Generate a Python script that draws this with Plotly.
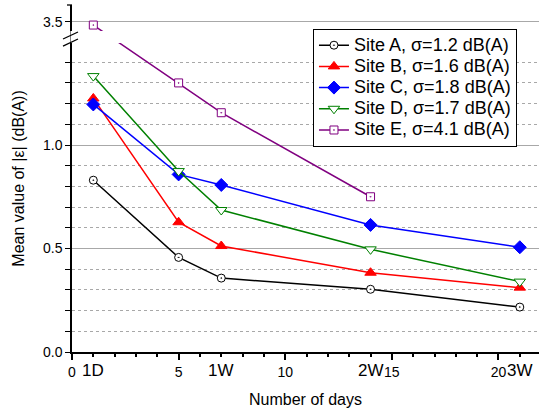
import plotly.graph_objects as go

# ---------------- data ----------------
days = [1, 5, 7, 14, 21]
site_a = [0.830, 0.457, 0.357, 0.303, 0.217]
site_b = [1.225, 0.627, 0.512, 0.383, 0.311]
site_c = [1.196, 0.858, 0.807, 0.614, 0.506]
site_d = [1.333, 0.874, 0.686, 0.496, 0.340]
site_e_days = [1, 5, 7, 14]
site_e = [3.48, 1.300, 1.156, 0.750]

names = [
    "Site A, σ=1.2 dB(A)",
    "Site B, σ=1.6 dB(A)",
    "Site C, σ=1.8 dB(A)",
    "Site D, σ=1.7 dB(A)",
    "Site E, σ=4.1 dB(A)",
]
x_tick_vals = [0, 5, 10, 15, 20]
x_period_vals = [1, 7, 14, 21]
x_period_text = ["1D", "1W", "2W", "3W"]
y_tick_vals = [0.0, 0.5, 1.0, 3.5]
y_tick_text = ["0.0", "0.5", "1.0", "3.5"]
y_minor_vals = [0.1, 0.2, 0.3, 0.4, 0.6, 0.7, 0.8, 0.9, 1.1, 1.2, 1.3, 1.4]

# ---------------- broken y scale ----------------
BREAK_LOW = 1.5      # top of lower segment
BREAK_HIGH = 3.4     # bottom of upper segment
UPPER_START = 1.515  # display position of BREAK_HIGH
UPPER_SCALE = 0.807  # compression of the upper segment
Y_TOP = 3.6


def disp(v):
    if v <= BREAK_LOW:
        return v
    return UPPER_START + (v - BREAK_HIGH) * UPPER_SCALE


YMAX = disp(Y_TOP)
FONT = "Liberation Sans, Arial, sans-serif"

fig = go.Figure()

styles = [
    dict(color="black", symbol="circle-dot", fill="white", size=8),
    dict(color="red", symbol="triangle-up", fill="red", size=10),
    dict(color="blue", symbol="diamond", fill="blue", size=10),
    dict(color="green", symbol="triangle-down", fill="white", size=10),
    dict(color="purple", symbol="square-dot", fill="white", size=8),
]
series = [(days, site_a), (days, site_b), (days, site_c), (days, site_d), (site_e_days, site_e)]

for (xs, ys), name, st in zip(series, names, styles):
    fig.add_trace(go.Scatter(
        x=xs, y=[disp(v) for v in ys],
        name='<span style="font-size:18px">' + name + '</span>',
        mode="lines+markers",
        line=dict(color=st["color"], width=1.5),
        marker=dict(symbol=st["symbol"], size=st["size"], color=st["fill"],
                    line=dict(color=st["color"], width=1)),
        customdata=ys, hovertemplate="%{x} days: %{customdata}<extra></extra>",
    ))

# period labels under the x axis
for xv, txt in zip(x_period_vals, x_period_text):
    fig.add_annotation(x=xv, y=0, xref="x", yref="paper", text=txt, showarrow=False,
                       yanchor="middle", yshift=-18, font=dict(size=17, color="black", family=FONT))

shapes = [
    # white band hiding the lines across the axis break
    dict(type="rect", xref="paper", xsizemode="pixel", xanchor=0, x0=-1.5, x1=480,
         yref="y", y0=1.493, y1=1.551,
         fillcolor="white", line=dict(width=0), layer="above"),
    # break slashes
    dict(type="line", xref="paper", xsizemode="pixel", xanchor=0, x0=-9, x1=6,
         yref="y", y0=1.512, y1=1.546, line=dict(color="black", width=1.3), layer="above"),
    dict(type="line", xref="paper", xsizemode="pixel", xanchor=0, x0=-9, x1=6,
         yref="y", y0=1.478, y1=1.512, line=dict(color="black", width=1.3), layer="above"),
    # top tick of the upper segment
    dict(type="line", xref="paper", xsizemode="pixel", xanchor=0, x0=-5, x1=0,
         yref="paper", y0=1, y1=1, line=dict(color="black", width=1.3), layer="above"),
]

fig.update_layout(
    width=539, height=408,
    margin=dict(l=72, r=0, t=5, b=56, autoexpand=False),
    paper_bgcolor="white", plot_bgcolor="white",
    font=dict(family=FONT, color="black"),
    showlegend=True,
    legend=dict(x=0.516, y=0.932, xanchor="left", yanchor="top",
                bgcolor="white", bordercolor="black", borderwidth=1,
                font=dict(size=14, family=FONT), tracegroupgap=0),
    shapes=shapes,
    xaxis=dict(
        range=[0, 21.9], showline=True, linecolor="black", linewidth=1.5,
        showgrid=False, zeroline=False, automargin=False,
        tickmode="array", tickvals=x_tick_vals, ticktext=[str(v) for v in x_tick_vals],
        ticks="outside", ticklen=6, tickwidth=1.5, tickcolor="black",
        tickfont=dict(size=14),
        minor=dict(tickmode="array", tickvals=[d for d in range(1, 22) if d % 5],
                   ticks="outside", ticklen=3, tickwidth=1.5, tickcolor="black", showgrid=False),
        title=dict(text="Number of days", font=dict(size=16), standoff=18),
    ),
    yaxis=dict(
        range=[0, YMAX], showline=True, linecolor="black", linewidth=1.5,
        zeroline=False, automargin=False,
        tickmode="array", tickvals=[disp(v) for v in y_tick_vals], ticktext=y_tick_text,
        ticks="outside", ticklen=5, tickwidth=1.3, tickcolor="black",
        tickfont=dict(size=14),
        showgrid=True, gridcolor="#a8a8a8", gridwidth=1,
        minor=dict(tickmode="array", tickvals=y_minor_vals, ticks="outside", ticklen=5,
                   tickwidth=1.3, tickcolor="black",
                   showgrid=True, gridcolor="#a8a8a8", griddash="dot", gridwidth=1),
        title=dict(text="Mean value of |ε| (dB(A))", font=dict(size=16), standoff=14),
    ),
)

fig.write_html("out.html")
